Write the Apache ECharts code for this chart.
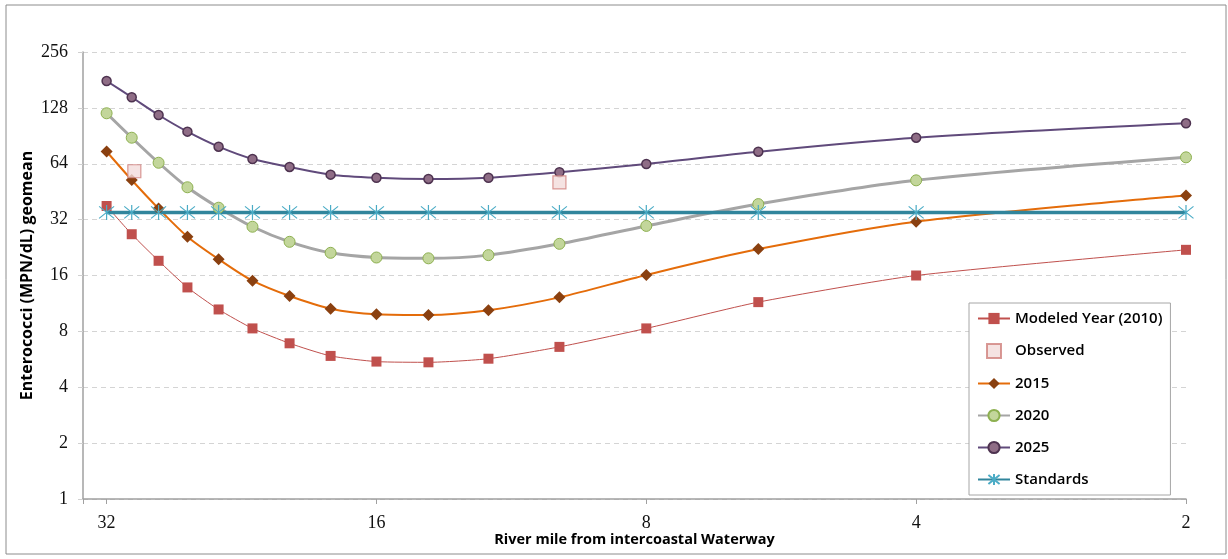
<!DOCTYPE html>
<html>
<head>
<meta charset="utf-8">
<script src="https://cdn.jsdelivr.net/npm/echarts@6/dist/echarts.min.js"></script>
<style>
    html, body { margin: 0; padding: 0; background: #fff; }
    #main { width: 1228px; height: 559px; }
</style>
</head>
<body>
<div id="main"></div>
<script>
    // river miles (x)
    const riverMiles = [32, 30, 28, 26, 24, 22, 20, 18, 16, 14, 12, 10, 8, 6, 4, 2];
    const modeled2010 = [37.9, 26.7, 19.2, 13.8, 10.5, 8.3, 6.9, 5.9, 5.5, 5.45, 5.7, 6.6, 8.3, 11.5, 16.0, 22.0];
    const year2015 = [74.5, 52.3, 36.7, 25.9, 19.6, 15.0, 12.4, 10.6, 9.9, 9.8, 10.4, 12.2, 16.1, 22.2, 31.2, 43.1];
    const year2020 = [119.7, 88.4, 64.8, 47.8, 37.1, 29.3, 24.3, 21.2, 20.0, 19.8, 20.6, 23.7, 29.6, 38.8, 52.1, 69.3];
    const year2025 = [178.7, 146, 117.2, 95.3, 79.1, 67.9, 61.5, 55.9, 53.8, 53.0, 53.8, 57.6, 63.8, 74.3, 88.4, 105.7];
    const standardValue = [35, 35, 35, 35, 35, 35, 35, 35, 35, 35, 35, 35, 35, 35, 35, 35];
    const observedMiles = [29.8, 10];
    const observedValues = [58.3, 50.8];

    function pairs(xs, ys) {
        return xs.map(function (x, i) { return [x, ys[i]]; });
    }
    // only show powers of 2 as labels
    function pow2Label(v) {
        let l = Math.log2(v);
        if (Math.abs(l - Math.round(l)) < 1e-6) return String(Math.round(v));
        return '';
    }

    const serifFont = 'Liberation Serif';
    const sansFont = 'Open Sans';
    const starPath = 'path://M10 0 L10 20 M0 2 L20 18 M0 18 L20 2';
    const squareIcon = 'path://M0 0 L10 0 L10 10 L0 10 Z';

    let chart = echarts.init(document.getElementById('main'));
    chart.setOption({
        animation: false,
        backgroundColor: '#fff',
        graphic: [{
            type: 'rect',
            shape: { x: 6, y: 5, width: 1220, height: 549 },
            style: { fill: 'none', stroke: '#8c8c8c', lineWidth: 1 },
            silent: true
        }],
        grid: { left: 83, right: 42, top: 52, bottom: 60 },
        legend: {
            orient: 'vertical',
            left: 969,
            top: 303,
            padding: [8, 8, 8, 8],
            itemWidth: 32,
            itemHeight: 14,
            itemGap: 17,
            backgroundColor: '#fff',
            borderColor: '#a6a6a6',
            borderWidth: 1,
            borderRadius: 0,
            textStyle: { fontFamily: sansFont, fontSize: 15, fontWeight: 600, color: '#000', width: 147 },
            data: [
                'Modeled Year (2010)',
                { name: 'Observed', icon: squareIcon },
                '2015', '2020', '2025', 'Standards'
            ]
        },
        xAxis: {
            type: 'log',
            logBase: 2,
            min: 2,
            max: 34,
            inverse: true,
            splitNumber: 4,
            name: 'River mile from intercoastal Waterway',
            nameLocation: 'middle',
            nameGap: 33,
            nameMoveOverlap: false,
            nameTextStyle: { fontFamily: sansFont, fontSize: 14.5, fontWeight: 'bold', color: '#000' },
            axisLine: { lineStyle: { color: '#a0a0a0', width: 1.5 } },
            axisTick: { show: true, length: 5, lineStyle: { color: '#a0a0a0' } },
            axisLabel: { fontFamily: serifFont, fontSize: 18, color: '#111', margin: 15, formatter: pow2Label },
            splitLine: { show: false }
        },
        yAxis: {
            type: 'log',
            logBase: 2,
            min: 1,
            max: 256,
            splitNumber: 8,
            interval: 1,
            name: 'Enterococci (MPN/dL) geomean',
            nameLocation: 'middle',
            nameGap: 48,
            nameMoveOverlap: false,
            nameTextStyle: { fontFamily: sansFont, fontSize: 16, fontWeight: 'bold', color: '#000' },
            axisLine: { show: true, lineStyle: { color: '#a0a0a0', width: 1.5 } },
            axisTick: { show: true, length: 5, lineStyle: { color: '#d0d0d0' } },
            axisLabel: { fontFamily: serifFont, fontSize: 18, color: '#111', margin: 15, formatter: pow2Label },
            splitLine: { show: true, lineStyle: { color: '#d4d4d4', type: [5, 4], width: 1 } }
        },
        series: [
            {
                name: 'Modeled Year (2010)',
                type: 'line',
                data: pairs(riverMiles, modeled2010),
                smooth: 0.2,
                symbol: 'rect',
                symbolSize: 10,
                lineStyle: { color: '#c0504d', width: 1 },
                itemStyle: { color: '#c0504d' }
            },
            {
                name: 'Observed',
                type: 'scatter',
                data: pairs(observedMiles, observedValues),
                symbol: 'rect',
                symbolSize: 13,
                z: 5,
                itemStyle: { color: '#f2dcdb', borderColor: '#d07f7c', borderWidth: 1.2 }
            },
            {
                name: '2015',
                type: 'line',
                data: pairs(riverMiles, year2015),
                smooth: 0.3,
                symbol: 'diamond',
                symbolSize: 12,
                lineStyle: { color: '#e46c0a', width: 2 },
                itemStyle: { color: '#8a4010' }
            },
            {
                name: '2020',
                type: 'line',
                data: pairs(riverMiles, year2020),
                smooth: 0.3,
                symbol: 'circle',
                symbolSize: 11,
                lineStyle: { color: '#a5a5a5', width: 3 },
                itemStyle: { color: '#c3d69b', borderColor: '#8db050', borderWidth: 1 }
            },
            {
                name: '2025',
                type: 'line',
                data: pairs(riverMiles, year2025),
                smooth: 0.3,
                symbol: 'circle',
                symbolSize: 9,
                lineStyle: { color: '#604a7b', width: 2 },
                itemStyle: { color: '#8f6d86', borderColor: '#4e3350', borderWidth: 1.5 }
            },
            {
                name: 'Standards',
                type: 'line',
                data: pairs(riverMiles, standardValue),
                symbol: starPath,
                symbolSize: 15,
                lineStyle: { color: '#31859c', width: 3.5 },
                itemStyle: { color: '#4bacc6', borderColor: '#4bacc6', borderWidth: 1.2 }
            }
        ]
    });
</script>
</body>
</html>
